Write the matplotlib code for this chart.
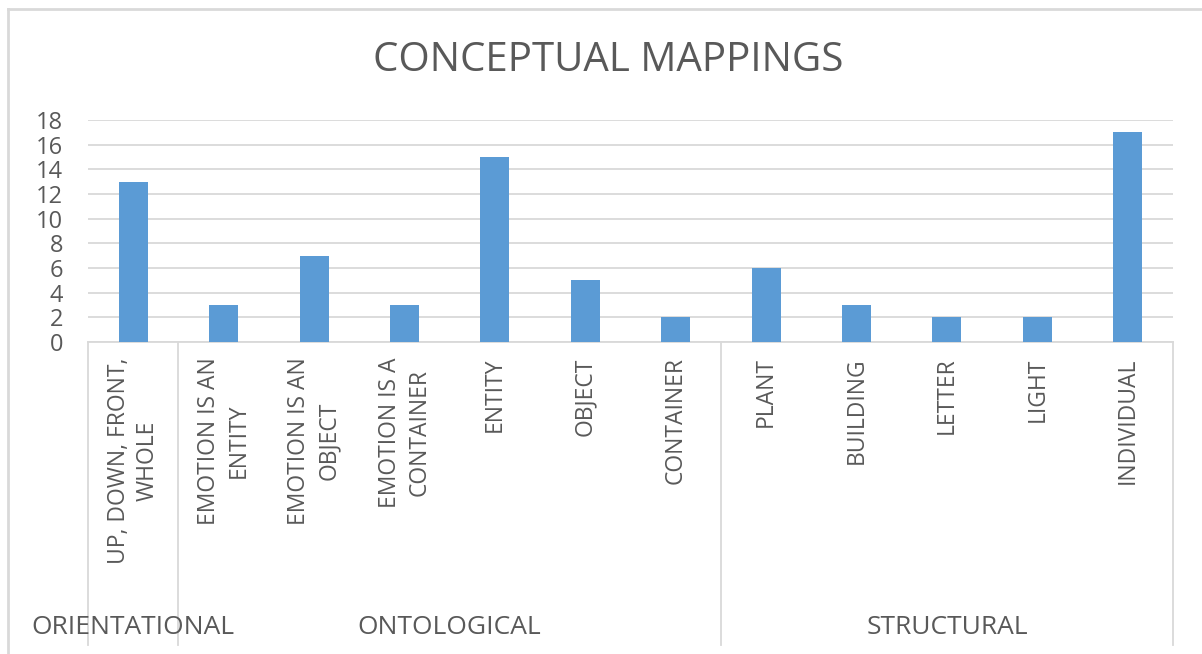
import numpy as np
import matplotlib
matplotlib.use("Agg")
import matplotlib.pyplot as plt
from matplotlib.transforms import blended_transform_factory

plt.rcParams["font.family"] = ["Open Sans", "DejaVu Sans"]

# dados
categorias = [
    "UP, DOWN, FRONT,\nWHOLE",
    "EMOTION IS AN\nENTITY",
    "EMOTION IS AN\nOBJECT",
    "EMOTION IS A\nCONTAINER",
    "ENTITY",
    "OBJECT",
    "CONTAINER",
    "PLANT",
    "BUILDING",
    "LETTER",
    "LIGHT",
    "INDIVIDUAL",
]
valores = [13, 3, 7, 3, 15, 5, 2, 6, 3, 2, 2, 17]
grupos = ["ORIENTATIONAL", "ONTOLOGICAL", "STRUCTURAL"]
tamanhos_grupos = [1, 6, 5]
ticks_y = [0, 2, 4, 6, 8, 10, 12, 14, 16, 18]

COR_BARRA = "#5B9BD5"
COR_TEXTO = "#595959"
COR_LINHA = "#D9D9D9"

W, H = 1202, 654
fig = plt.figure(figsize=(W / 100, H / 100), dpi=100)

# área do gráfico em pixels (medida na imagem)
x0, x1 = 88, 1173
y_topo, y_base = 120, 342
ax = fig.add_axes([x0 / W, 1 - y_base / H, (x1 - x0) / W, (y_base - y_topo) / H])

x = np.arange(len(categorias))
ax.bar(x, valores, width=0.32, color=COR_BARRA, zorder=3)

ax.set_xlim(-0.5, len(categorias) - 0.5)
ax.set_ylim(0, 18)
ax.set_yticks(ticks_y)
ax.set_yticklabels([str(t) for t in ticks_y], fontsize=17, color=COR_TEXTO)
ax.tick_params(axis="y", length=0, pad=18)
ax.yaxis.grid(True, color=COR_LINHA, linewidth=1.3, zorder=0)

ax.set_xticks(x)
ax.set_xticklabels(categorias, rotation=90, fontsize=16.5, color=COR_TEXTO,
                   va="top", ha="center", multialignment="center",
                   linespacing=1.3)
ax.tick_params(axis="x", length=0, pad=11)

for lado in ["left", "right", "top"]:
    ax.spines[lado].set_visible(False)
ax.spines["bottom"].set_color(COR_LINHA)
ax.spines["bottom"].set_linewidth(1.3)

# linhas separadoras do eixo de categorias em dois níveis
trans = blended_transform_factory(ax.transData, fig.transFigure)
limites = np.concatenate([[0], np.cumsum(tamanhos_grupos)]) - 0.5
for b in limites:
    ax.plot([b, b], [1 - y_base / H, 1 - 645 / H], color=COR_LINHA,
            linewidth=1.3, transform=trans, clip_on=False)

inicio = 0
for nome, n in zip(grupos, tamanhos_grupos):
    centro = inicio + (n - 1) / 2
    ax.text(centro, 1 - 627 / H, nome, transform=trans, ha="center",
            va="center", fontsize=19, color=COR_TEXTO)
    inicio += n

fig.text(608 / W, 1 - 61 / H, "CONCEPTUAL MAPPINGS", ha="center", va="center",
         fontsize=29, color=COR_TEXTO)

# moldura do gráfico (só aparecem topo e esquerda no recorte)
fig.add_artist(plt.Line2D([8 / W, 8 / W], [0, 1 - 9 / H], color=COR_LINHA,
                          linewidth=2, transform=fig.transFigure))
fig.add_artist(plt.Line2D([8 / W, 1], [1 - 9 / H, 1 - 9 / H], color=COR_LINHA,
                          linewidth=2, transform=fig.transFigure))

fig.savefig("out.png", dpi=100)
